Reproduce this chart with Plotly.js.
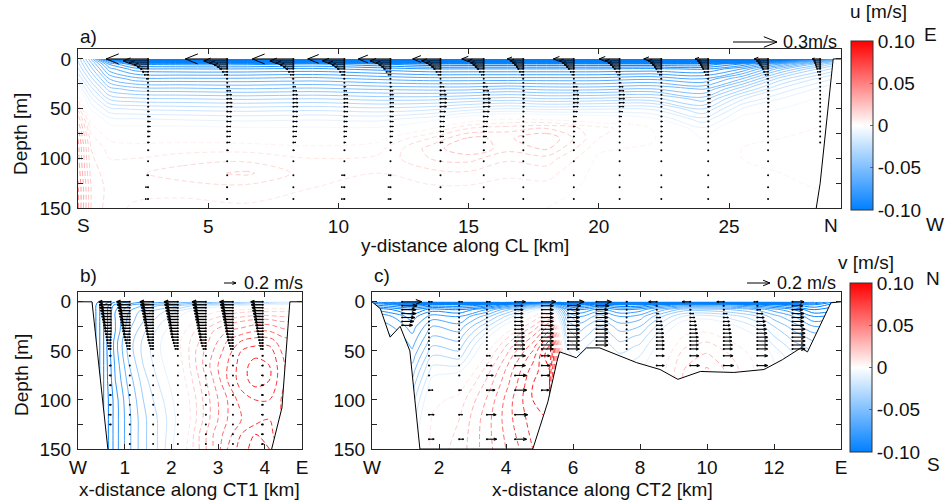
<!DOCTYPE html>
<html><head><meta charset="utf-8">
<script src="https://cdn.plot.ly/plotly-3.0.1.min.js"></script>
<style>html,body{margin:0;padding:0;background:#fff}#chart{width:949px;height:501px}</style>
</head><body><div id="chart"></div>
<script>
// ---------------- DATA ----------------
// Panel a: u along CL (columns = profiles at xA, rows = depths dA)
const xA = [0,0.5,1.2,2.2,4,6.5,9,11.5,13.5,15,16.5,18,20,22,24,25.5,27,28.3,29.3];
const dA = [0,2,5,10,20,30,40,50,60,70,80,90,100,115,130,150];
const uAcols = [
 [-0.03,-0.03,-0.028,-0.024,-0.015,-0.004,0.008,0.018,0.028,0.035,0.04,0.042,0.042,0.044,0.046,0.046],
 [-0.055,-0.052,-0.048,-0.043,-0.033,-0.023,-0.014,-0.006,0.002,0.008,0.012,0.015,0.016,0.018,0.02,0.02],
 [-0.11,-0.088,-0.076,-0.068,-0.055,-0.043,-0.031,-0.019,-0.009,-0.002,0.004,0.008,0.01,0.012,0.013,0.012],
 [-0.19,-0.115,-0.09,-0.078,-0.063,-0.048,-0.034,-0.021,-0.01,-0.003,0.003,0.007,0.01,0.014,0.012,0.009],
 [-0.22,-0.12,-0.092,-0.08,-0.064,-0.049,-0.035,-0.022,-0.011,-0.003,0.003,0.008,0.012,0.018,0.012,0.008],
 [-0.22,-0.12,-0.092,-0.08,-0.064,-0.05,-0.036,-0.023,-0.012,-0.004,0.002,0.008,0.013,0.021,0.013,0.009],
 [-0.22,-0.12,-0.09,-0.079,-0.063,-0.049,-0.035,-0.022,-0.011,-0.004,0.002,0.006,0.01,0.012,0.01,0.008],
 [-0.22,-0.125,-0.095,-0.082,-0.066,-0.051,-0.037,-0.024,-0.012,-0.004,0.003,0.008,0.011,0.01,0.008,0.006],
 [-0.22,-0.13,-0.1,-0.085,-0.068,-0.052,-0.037,-0.022,-0.008,0.004,0.015,0.022,0.02,0.013,0.009,0.006],
 [-0.22,-0.13,-0.1,-0.085,-0.068,-0.052,-0.035,-0.018,0.0,0.015,0.026,0.03,0.022,0.014,0.009,0.006],
 [-0.22,-0.13,-0.1,-0.085,-0.068,-0.05,-0.033,-0.015,0.004,0.018,0.024,0.022,0.016,0.011,0.008,0.006],
 [-0.22,-0.13,-0.1,-0.085,-0.068,-0.052,-0.035,-0.017,0.003,0.02,0.03,0.026,0.018,0.012,0.008,0.005],
 [-0.22,-0.13,-0.1,-0.085,-0.068,-0.052,-0.034,-0.016,0.0,0.012,0.01,0.006,0.004,0.003,0.003,0.003],
 [-0.22,-0.13,-0.1,-0.084,-0.066,-0.05,-0.033,-0.016,-0.004,0.005,0.006,0.004,0.002,0.0,0.0,0.0],
 [-0.22,-0.13,-0.1,-0.086,-0.07,-0.056,-0.043,-0.031,-0.019,-0.009,-0.005,-0.004,-0.004,-0.004,-0.004,-0.004],
 [-0.21,-0.12,-0.09,-0.075,-0.055,-0.037,-0.021,-0.01,-0.003,0.002,0.004,0.005,0.005,0.004,0.004,0.003],
 [-0.19,-0.1,-0.07,-0.052,-0.032,-0.019,-0.01,-0.005,0.0,0.003,0.005,0.006,0.006,0.005,0.004,0.003],
 [-0.13,-0.07,-0.05,-0.036,-0.02,-0.01,-0.005,0.0,0.003,0.005,0.006,0.007,0.007,0.006,0.005,0.004],
 [-0.08,-0.05,-0.036,-0.026,-0.013,-0.005,0.0,0.003,0.005,0.006,0.007,0.007,0.007,0.006,0.005,0.004]
];
// Panel a: current profiles (arrows)
const stA = [2.69,5.73,8.27,10.23,12.0,13.92,15.58,17.1,19.04,20.8,22.4,24.2,26.5,28.5];
const aD = [0,2,4,6,8,10,13,16,20,24,28,32,36,40,44,48,53,58,63,68,73,78,84,92,103,117,129,141];
const aU = [
 [-0.286,-0.17,-0.13,-0.095,-0.075,-0.055,-0.04,-0.027,-0.014,-0.007,-0.002,0.002,0.004,0.005,0.006,0.008,0.012,0.015,0.016,0.016,0.015,0.014,0.012,0.008,0.004,-0.012,-0.018,-0.02],
 [-0.286,-0.16,-0.12,-0.09,-0.07,-0.052,-0.035,-0.02,-0.008,0.006,0.018,0.026,0.03,0.032,0.034,0.034,0.03,0.028,0.027,0.026,0.025,0.024,0.02,0.012,0.005,-0.004,-0.008,-0.008],
 [-0.28,-0.16,-0.12,-0.09,-0.07,-0.052,-0.036,-0.022,-0.01,0.004,0.016,0.024,0.028,0.03,0.032,0.032,0.03,0.028,0.027,0.026,0.025,0.022,0.018,0.01,0.004,-0.003,-0.004,-0.004],
 [-0.25,-0.15,-0.11,-0.085,-0.066,-0.05,-0.034,-0.02,-0.008,0.002,0.012,0.018,0.022,0.024,0.025,0.025,0.024,0.022,0.02,0.02,0.018,0.016,0.012,0.006,0.0,-0.02,-0.022,-0.022],
 [-0.22,-0.14,-0.1,-0.08,-0.062,-0.048,-0.032,-0.018,-0.006,0.004,0.012,0.018,0.02,0.022,0.022,0.022,0.02,0.02,0.02,0.02,0.018,0.016,0.012,0.006,0.0,-0.015,-0.018,-0.018],
 [-0.19,-0.13,-0.1,-0.08,-0.062,-0.048,-0.032,-0.018,-0.004,0.012,0.025,0.034,0.04,0.042,0.042,0.04,0.035,0.03,0.028,0.026,0.024,0.022,0.018,0.01,0.003,0.0,0.0,0.0],
 [-0.15,-0.11,-0.09,-0.075,-0.06,-0.047,-0.032,-0.018,-0.004,0.012,0.026,0.036,0.042,0.045,0.045,0.044,0.038,0.032,0.028,0.025,0.022,0.02,0.015,0.008,0.003,0,0,0],
 [-0.11,-0.09,-0.075,-0.062,-0.05,-0.04,-0.028,-0.016,-0.006,0.002,0.006,0.01,0.012,0.012,0.012,0.01,0.008,0.006,0.004,0.004,0.004,0.003,0.002,0.002,0,0,0,0],
 [-0.14,-0.1,-0.08,-0.066,-0.052,-0.04,-0.026,-0.014,-0.002,0.012,0.024,0.03,0.034,0.034,0.032,0.03,0.025,0.02,0.016,0.012,0.01,0.008,0.006,0.004,0.002,0,0,0],
 [-0.14,-0.1,-0.08,-0.066,-0.052,-0.04,-0.026,-0.014,-0.002,0.012,0.024,0.03,0.034,0.034,0.032,0.03,0.022,0.015,0.01,0.008,0.006,0.005,0.004,0.003,0.002,0,0,0],
 [-0.12,-0.09,-0.075,-0.062,-0.05,-0.04,-0.028,-0.016,-0.006,0.0,0.004,0.006,0.006,0.006,0.006,0.006,0.006,0.008,0.01,0.01,0.01,0.008,0.006,0.005,0.003,0.002,0.002,0.002],
 [-0.09,-0.075,-0.065,-0.056,-0.048,-0.04,-0.03,-0.02,-0.01,-0.002,0.006,0.012,0.014,0.015,0.015,0.014,0.012,0.01,0.008,0.006,0.005,0.004,0.004,0.003,0.002,0,0,0],
 [-0.095,-0.08,-0.07,-0.06,-0.05,-0.042,-0.032,-0.022,-0.012,-0.004,0.003,0.008,0.01,0.01,0.01,0.008,0.006,0.004,0.003,0.002,0.002,0.002,0.002,0.002,0.002,0.002,0.002,0.002],
 [-0.055,-0.045,-0.04,-0.035,-0.03,-0.025,-0.02,-0.015,-0.01,-0.006,-0.003,-0.002,-0.001,0,0,0,0,0,0,0,0,0,0,null,null,null,null,null]
];
const aBathX = [29.3,29.0,28.5,28.35];
const aBathY = [0,0,125,150];

// Panel b: v across CT1 (rows = depths dB, columns = xB)
const xB = [0.3,0.55,0.8,1.1,1.4,1.7,2.0,2.3,2.6,2.9,3.2,3.5,3.8,4.1,4.35,4.6];
const dB = [0,4,10,20,30,40,50,65,80,100,120,135,150];
const vBrows = [
 [-0.14,-0.12,-0.1,-0.09,-0.08,-0.075,-0.07,-0.065,-0.06,-0.055,-0.05,-0.045,-0.04,-0.035,-0.03,-0.03],
 [-0.14,-0.11,-0.085,-0.07,-0.06,-0.05,-0.045,-0.035,-0.025,-0.018,-0.012,-0.008,-0.004,0,0,0],
 [-0.14,-0.11,-0.08,-0.06,-0.045,-0.035,-0.025,-0.012,0.0,0.008,0.014,0.018,0.02,0.02,0.02,0.02],
 [-0.14,-0.11,-0.08,-0.055,-0.04,-0.025,-0.012,0.002,0.015,0.025,0.035,0.04,0.045,0.045,0.04,0.04],
 [-0.14,-0.11,-0.08,-0.05,-0.032,-0.018,-0.004,0.01,0.025,0.04,0.05,0.055,0.06,0.06,0.055,0.05],
 [-0.14,-0.11,-0.075,-0.045,-0.028,-0.014,0.0,0.015,0.03,0.045,0.06,0.07,0.075,0.075,0.065,0.06],
 [-0.14,-0.11,-0.075,-0.045,-0.027,-0.013,0.0,0.015,0.035,0.05,0.065,0.08,0.085,0.085,0.07,0.06],
 [-0.14,-0.11,-0.078,-0.05,-0.03,-0.016,-0.003,0.013,0.035,0.055,0.07,0.085,0.095,0.09,0.075,0.06],
 [-0.14,-0.11,-0.08,-0.055,-0.035,-0.02,-0.007,0.01,0.03,0.05,0.07,0.085,0.095,0.09,0.075,0.06],
 [-0.14,-0.11,-0.085,-0.06,-0.04,-0.026,-0.012,0.004,0.025,0.045,0.06,0.075,0.08,0.08,0.07,0.06],
 [-0.14,-0.11,-0.085,-0.062,-0.043,-0.03,-0.015,0.002,0.025,0.045,0.06,0.07,0.075,0.08,0.07,0.06],
 [-0.14,-0.11,-0.085,-0.062,-0.043,-0.03,-0.014,0.005,0.03,0.05,0.065,0.08,0.09,0.085,0.07,0.06],
 [-0.14,-0.11,-0.085,-0.062,-0.043,-0.03,-0.012,0.008,0.03,0.05,0.07,0.085,0.095,0.09,0.075,0.06]
];
const stB = [0.7,1.11,1.61,2.14,2.74,3.32,3.96];
const bD = [0,3,6,9,12,15,18,21,24,27,30,33,36,39,42,45,48,55,65,75,85,95,105,115,125,135,145];
const bU = [
 [-0.2,-0.19,-0.18,-0.17,-0.16,-0.15,-0.14,-0.13,-0.12,-0.11,-0.1,-0.09,-0.08,-0.07,-0.06,-0.05,-0.04,-0.03,-0.03,-0.03,-0.025,-0.025,-0.03,-0.035,-0.03,null,null],
 [-0.22,-0.21,-0.2,-0.19,-0.18,-0.17,-0.16,-0.15,-0.14,-0.13,-0.12,-0.11,-0.1,-0.085,-0.07,-0.055,-0.04,-0.005,-0.005,-0.005,-0.005,-0.005,-0.005,-0.005,-0.005,-0.005,-0.005],
 [-0.22,-0.21,-0.2,-0.19,-0.18,-0.17,-0.16,-0.15,-0.14,-0.13,-0.12,-0.11,-0.1,-0.09,-0.075,-0.06,-0.045,-0.005,-0.005,-0.005,-0.005,-0.005,-0.005,-0.005,-0.005,-0.005,-0.005],
 [-0.23,-0.22,-0.21,-0.2,-0.19,-0.18,-0.17,-0.16,-0.15,-0.14,-0.13,-0.12,-0.11,-0.095,-0.08,-0.065,-0.05,-0.005,-0.005,-0.005,-0.005,-0.005,-0.005,-0.005,-0.005,-0.005,-0.005],
 [-0.23,-0.22,-0.21,-0.2,-0.19,-0.18,-0.17,-0.16,-0.15,-0.14,-0.13,-0.12,-0.11,-0.1,-0.085,-0.07,-0.05,-0.005,-0.005,-0.005,-0.005,-0.005,-0.005,-0.005,-0.005,-0.005,-0.005],
 [-0.22,-0.21,-0.2,-0.19,-0.18,-0.17,-0.16,-0.15,-0.14,-0.13,-0.12,-0.11,-0.1,-0.09,-0.075,-0.06,-0.045,-0.005,-0.01,-0.01,-0.01,-0.01,-0.01,-0.01,-0.01,-0.01,-0.01],
 [-0.2,-0.19,-0.18,-0.17,-0.16,-0.15,-0.14,-0.13,-0.12,-0.11,-0.1,-0.09,-0.08,-0.07,-0.06,-0.05,-0.04,-0.02,-0.025,-0.03,-0.03,-0.03,-0.03,-0.03,-0.03,-0.03,-0.03]
];
const bLeftX = [0,0.3,0.64];
const bLeftY = [0,0,150];
const bRightX = [4.8,4.54,4.37,4.15];
const bRightY = [0,0,108,150];

// Panel c: v across CT2 (columns = profiles at xC, rows = depths dC)
const xC = [0,0.6,1.2,1.8,2.6,3.4,4.2,4.8,5.3,5.8,6.2,6.8,7.4,8.0,8.6,9.3,10,10.7,11.4,12,12.6,13.2,14];
const dC = [0,3,8,15,25,35,45,55,70,85,100,120,150];
const vCcols = [
 [-0.14,-0.12,-0.09,-0.07,-0.06,-0.05,-0.045,-0.04,-0.035,-0.03,-0.025,-0.02,-0.02],
 [-0.17,-0.13,-0.1,-0.08,-0.07,-0.06,-0.055,-0.05,-0.045,-0.04,-0.035,-0.03,-0.03],
 [-0.2,-0.14,-0.11,-0.095,-0.085,-0.078,-0.072,-0.065,-0.055,-0.045,-0.035,-0.025,-0.015],
 [-0.2,-0.13,-0.095,-0.075,-0.06,-0.05,-0.04,-0.03,-0.015,-0.003,0.006,0.012,0.014],
 [-0.2,-0.13,-0.1,-0.08,-0.066,-0.055,-0.045,-0.035,-0.012,0.004,0.014,0.02,0.024],
 [-0.2,-0.12,-0.08,-0.055,-0.033,-0.015,0.0,0.01,0.024,0.033,0.04,0.045,0.045],
 [-0.18,-0.09,-0.045,-0.02,0.005,0.025,0.04,0.05,0.06,0.065,0.07,0.07,0.065],
 [-0.16,-0.07,-0.015,0.01,0.03,0.05,0.065,0.075,0.085,0.09,0.09,0.085,0.08],
 [-0.15,-0.06,0.0,0.03,0.06,0.08,0.1,0.11,0.1,0.1,0.1,0.09,0.085],
 [-0.17,-0.11,-0.075,-0.055,-0.04,-0.03,-0.02,-0.015,-0.015,-0.015,-0.015,-0.015,-0.015],
 [-0.18,-0.12,-0.09,-0.07,-0.055,-0.045,-0.035,-0.028,-0.025,-0.025,-0.025,-0.025,-0.025],
 [-0.18,-0.11,-0.075,-0.055,-0.04,-0.03,-0.022,-0.016,-0.014,-0.014,-0.014,-0.014,-0.014],
 [-0.18,-0.12,-0.09,-0.07,-0.055,-0.045,-0.036,-0.028,-0.02,-0.02,-0.02,-0.02,-0.02],
 [-0.18,-0.12,-0.085,-0.065,-0.05,-0.038,-0.028,-0.02,-0.012,-0.012,-0.012,-0.012,-0.012],
 [-0.18,-0.1,-0.065,-0.042,-0.025,-0.013,-0.005,0.0,0.004,0.004,0.004,0.004,0.004],
 [-0.18,-0.09,-0.045,-0.018,0.0,0.01,0.018,0.025,0.03,0.03,0.03,0.03,0.03],
 [-0.18,-0.09,-0.045,-0.015,0.004,0.014,0.024,0.032,0.042,0.042,0.042,0.042,0.042],
 [-0.18,-0.09,-0.05,-0.024,-0.006,0.006,0.014,0.02,0.026,0.026,0.026,0.026,0.026],
 [-0.18,-0.1,-0.06,-0.036,-0.02,-0.008,0.002,0.008,0.01,0.01,0.01,0.01,0.01],
 [-0.18,-0.11,-0.075,-0.055,-0.04,-0.03,-0.02,-0.012,-0.008,-0.008,-0.008,-0.008,-0.008],
 [-0.18,-0.12,-0.09,-0.07,-0.055,-0.045,-0.036,-0.028,-0.022,-0.022,-0.022,-0.022,-0.022],
 [-0.16,-0.13,-0.11,-0.09,-0.07,-0.055,-0.045,-0.035,-0.03,-0.03,-0.03,-0.03,-0.03],
 [-0.12,-0.11,-0.1,-0.08,-0.065,-0.05,-0.04,-0.03,-0.03,-0.03,-0.03,-0.03,-0.03]
];
const stC = [0.9,1.7,2.6,3.43,4.27,5.07,5.85,6.7,7.6,8.5,9.5,10.5,11.5,12.55];
const cD = [0,4,8,12,16,20,24,28,32,36,40,44,48,55,65,75,90,115,140];
const N_ = null;
const cU = [
 [0.17,0.13,0.12,0.12,0.11,0.1,0.09,N_,N_,N_,N_,N_,N_,N_,N_,N_,N_,N_,N_],
 [0.03,0.005,0.005,0.005,0.005,0.005,0.005,0.005,0.005,0.005,0.005,0.005,0.005,0.005,0.01,0.01,0.035,0.045,0.045],
 [0.03,0.005,0.005,0.005,0.005,0.005,0.005,0.005,0.005,0.005,0.005,0.005,0.005,0.005,0.005,0.01,0.02,0.03,0.04],
 [0.03,0.005,0.005,0.005,0.005,0.005,0.005,0.005,0.005,0.005,0.005,0.005,0.005,0.03,0.045,0.055,0.07,0.08,0.085],
 [0.09,0.07,0.07,0.07,0.07,0.07,0.075,0.075,0.08,0.08,0.08,0.085,0.085,0.09,0.09,0.1,0.1,0.11,0.1],
 [0.12,0.1,0.1,0.1,0.1,0.1,0.1,0.1,0.1,0.1,0.1,0.1,0.1,0.07,0.07,0.07,0.06,N_,N_],
 [0.14,0.11,0.1,0.1,0.1,0.1,0.1,0.1,0.1,0.1,0.1,0.1,0.1,N_,N_,N_,N_,N_,N_],
 [0.13,0.11,0.1,0.1,0.1,0.1,0.1,0.1,0.1,0.1,0.1,0.1,N_,N_,N_,N_,N_,N_,N_],
 [0.01,0.005,0.005,0.005,0.005,0.005,0.005,0.005,0.005,0.005,0.005,0.005,0.005,N_,N_,N_,N_,N_,N_],
 [-0.07,-0.01,0.005,0.02,0.035,0.045,0.05,0.055,0.06,0.06,0.065,0.065,0.065,0.065,0.065,N_,N_,N_,N_],
 [-0.07,-0.01,0.01,0.03,0.04,0.05,0.055,0.06,0.065,0.07,0.07,0.07,0.07,0.075,0.08,N_,N_,N_,N_],
 [-0.06,-0.01,0.01,0.03,0.04,0.05,0.055,0.06,0.065,0.07,0.07,0.075,0.075,0.08,0.085,N_,N_,N_,N_],
 [-0.03,0.01,0.03,0.05,0.06,0.07,0.075,0.08,0.085,0.09,0.09,0.09,0.09,0.09,0.09,N_,N_,N_,N_],
 [0.1,0.09,0.09,0.1,0.1,0.1,0.1,0.11,0.11,0.11,0.11,0.11,0.11,N_,N_,N_,N_,N_,N_]
];
const cBathX = [0,0.25,0.54,0.84,1.13,1.43,4.8,5.25,5.52,5.6,6.1,6.4,6.8,7.9,8.6,9.13,9.8,10.8,11.7,12.25,12.8,13.0,13.7,14];
const cBathY = [0,7,36,25,50,150,150,102,61,51,57,47,47,62,69,79,71,72,69,59,47,51,1,0];

const cbTicks = [-0.1,-0.05,0,0.05,0.1];
const cbTickText = ['-0.10','-0.05','0','0.05','0.10'];

// ---------------- GEOMETRY / STYLE ----------------
const W = 949, H = 501;
const px = x => x / W, py = y => 1 - y / H;
const FONT = 'Liberation Sans, Arial, Helvetica, sans-serif';
const BLUE = [0,128,255], RED = [255,0,0], VMAX = 0.1;
const CS = [[0,'rgb(0,128,255)'],[0.5,'rgb(255,255,255)'],[1,'rgb(255,0,0)']];
function colorAt(v) {
  const t = Math.max(-1, Math.min(1, v / VMAX));
  const c = t < 0 ? BLUE : RED, a = Math.abs(t);
  return 'rgb(' + c.map(ch => Math.round(255 + (ch - 255) * a)).join(',') + ')';
}
// colorscale spanning [first level, last level] that reproduces the global -0.1..0.1 mapping
function lineScale(first, last) {
  const out = [];
  for (let i = 0; i <= 40; i++) { const f = i / 40; out.push([f, colorAt(first + f * (last - first))]); }
  return out;
}
const boxA = [78,841,49,208], boxB = [78,302,292,449], boxC = [372,841,292,449];
const rangeX = {a:[0,29.3], b:[0,4.8], c:[0,14]};
const rangeY = [150,-10];
const pxPerKm = (box, r) => (box[1]-box[0]) / (r[1]-r[0]);
const pxPerM = box => (box[3]-box[2]) / (rangeY[0]-rangeY[1]);
const arrowPxA = 44/0.3, arrowPxB = 12/0.2, arrowPxC = 23/0.2;

function field(x, y, z, size, xa, ya) {
  const base = {type:'contour', x:x, y:y, z:z, xaxis:xa, yaxis:ya, showscale:false, autocontour:false, hoverinfo:'skip'};
  const lo = -0.2, hi = 0.2;
  return [
    Object.assign({}, base, {colorscale:lineScale(lo, -size), contours:{coloring:'lines', start:lo, end:-size*0.5, size:size}, line:{width:1, smoothing:1}}),
    Object.assign({}, base, {colorscale:lineScale(size, hi), contours:{coloring:'lines', start:size, end:hi + size*0.5, size:size}, line:{width:1, smoothing:1, dash:'5px,3px'}})
  ];
}
const colsToRows = (cols, depths) => depths.map((_, j) => cols.map(c => c[j]));

function quiver(xs, depths, U, pxPerMS, pxK, pxM, xa, ya, lw) {
  const lx = [], ly = [], dx = [], dy = [];
  const kmPerMS = pxPerMS / pxK;
  xs.forEach((x0, s) => depths.forEach((d, k) => {
    const u = U[s][k];
    if (u === null || u === undefined) return;
    dx.push(x0); dy.push(d);
    const L = u * kmPerMS, x1 = x0 + L, Lpx = Math.abs(L) * pxK;
    if (Lpx < 0.8) return;
    lx.push(x0, x1, null); ly.push(d, d, null);
    if (Lpx >= 2) {
      const hx = 0.3 * L, wy = 0.12 * Lpx / pxM;
      lx.push(x1 - hx, x1, x1 - hx, null); ly.push(d - wy, d, d + wy, null);
    }
  }));
  return [
    {type:'scatter', mode:'lines', x:lx, y:ly, xaxis:xa, yaxis:ya, line:{color:'#000', width:lw}, hoverinfo:'skip'},
    {type:'scatter', mode:'markers', x:dx, y:dy, xaxis:xa, yaxis:ya, marker:{color:'#000', size:2}, hoverinfo:'skip'}
  ];
}
function whiteFill(x, y, xa, ya) {
  return {type:'scatter', mode:'lines', x:x, y:y, xaxis:xa, yaxis:ya, fill:'toself', fillcolor:'#fff',
    line:{width:0, color:'rgba(0,0,0,0)'}, hoverinfo:'skip'};
}
function bathLine(x, y, xa, ya) {
  return {type:'scatter', mode:'lines', x:x, y:y, xaxis:xa, yaxis:ya, line:{color:'#000', width:1}, hoverinfo:'skip'};
}
function cbar(xa, ya, xpx, topPx, botPx) {
  return {type:'scatter', mode:'markers', x:[null,null], y:[null,null], xaxis:xa, yaxis:ya, hoverinfo:'skip',
    marker:{color:[-0.1,0.1], cmin:-0.1, cmax:0.1, colorscale:CS, showscale:true,
      colorbar:{x:px(xpx), xanchor:'left', y:py((topPx+botPx)/2), yanchor:'middle', len:(botPx-topPx)/H, lenmode:'fraction',
        thickness:22, thicknessmode:'pixels', outlinewidth:1, outlinecolor:'#333', xpad:0, ypad:0,
        tickvals:cbTicks, ticktext:cbTickText, ticks:'inside', ticklen:3, tickcolor:'#666', ticklabelstandoff:6,
        tickfont:{size:19, family:FONT, color:'#111'}}}};
}

// ---------------- TRACES ----------------
const traces = [];
traces.push(...field(xA, dA, colsToRows(uAcols, dA), 0.005, 'x', 'y'));
traces.push(...field(xB, dB, vBrows, 0.01, 'x2', 'y2'));
traces.push(...field(xC, dC, colsToRows(vCcols, dC), 0.01, 'x3', 'y3'));

traces.push(whiteFill(aBathX.concat([rangeX.a[1]]), aBathY.concat([rangeY[0]]), 'x', 'y'));
traces.push(whiteFill(bLeftX.concat([rangeX.b[0]]), bLeftY.concat([rangeY[0]]), 'x2', 'y2'));
traces.push(whiteFill(bRightX.concat([rangeX.b[1]]), bRightY.concat([rangeY[0]]), 'x2', 'y2'));
traces.push(whiteFill(cBathX.concat([rangeX.c[1], rangeX.c[0]]), cBathY.concat([rangeY[0], rangeY[0]]), 'x3', 'y3'));

traces.push(bathLine(aBathX, aBathY, 'x', 'y'));
traces.push(bathLine(bLeftX, bLeftY, 'x2', 'y2'));
traces.push(bathLine(bRightX, bRightY, 'x2', 'y2'));
traces.push(bathLine(cBathX, cBathY, 'x3', 'y3'));

traces.push(...quiver(stA, aD, aU, arrowPxA, pxPerKm(boxA, rangeX.a), pxPerM(boxA), 'x', 'y', 1));
traces.push(...quiver(stB, bD, bU, arrowPxB, pxPerKm(boxB, rangeX.b), pxPerM(boxB), 'x2', 'y2', 1.4));
traces.push(...quiver(stC, cD, cU, arrowPxC, pxPerKm(boxC, rangeX.c), pxPerM(boxC), 'x3', 'y3', 1.1));

traces.push(cbar('x', 'y', 851, 41, 210));
traces.push(cbar('x3', 'y3', 850, 283, 452));

// ---------------- LAYOUT ----------------
const axBase = {showline:true, linecolor:'#262626', linewidth:1, mirror:'ticks', ticks:'inside', ticklen:5,
  tickcolor:'#262626', showgrid:false, zeroline:false, fixedrange:true,
  tickfont:{size:19, family:FONT, color:'#111'}};
const yTicks = {tickvals:[0,25,50,75,100,125,150], ticktext:['0','','50','','100','','150'], range:rangeY, ticklabelstandoff:2};
const layout = {
  width:W, height:H, margin:{l:0,r:0,t:0,b:0}, paper_bgcolor:'#fff', plot_bgcolor:'#fff', showlegend:false,
  font:{family:FONT, size:19, color:'#111'},
  xaxis: Object.assign({}, axBase, {domain:[px(boxA[0]),px(boxA[1])], range:rangeX.a, tickvals:[5,10,15,20,25], anchor:'y', ticklabelstandoff:1}),
  yaxis: Object.assign({}, axBase, yTicks, {domain:[py(boxA[3]),py(boxA[2])], anchor:'x'}),
  xaxis2: Object.assign({}, axBase, {domain:[px(boxB[0]),px(boxB[1])], range:rangeX.b, tickvals:[0,1,2,3,4,4.8], ticktext:['W','1','2','3','4','E'], anchor:'y2', ticklabelstandoff:1}),
  yaxis2: Object.assign({}, axBase, yTicks, {domain:[py(boxB[3]),py(boxB[2])], anchor:'x2'}),
  xaxis3: Object.assign({}, axBase, {domain:[px(boxC[0]),px(boxC[1])], range:rangeX.c, tickvals:[0,2,4,6,8,10,12,14], ticktext:['W','2','4','6','8','10','12','E'], anchor:'y3', ticklabelstandoff:1}),
  yaxis3: Object.assign({}, axBase, yTicks, {domain:[py(boxC[3]),py(boxC[2])], anchor:'x3'}),
  annotations: [],
  shapes: []
};
function ann(text, x, y, opts) {
  layout.annotations.push(Object.assign({text:text, x:px(x), y:py(y), xref:'paper', yref:'paper', showarrow:false,
    xanchor:'center', yanchor:'middle', font:{size:19, family:FONT, color:'#111'}}, opts || {}));
}
ann('a)', 78, 37, {xanchor:'left'});
ann('b)', 78, 275, {xanchor:'left'});
ann('c)', 372, 275, {xanchor:'left'});
ann('Depth [m]', 21, 134, {textangle:-90});
ann('Depth [m]', 21, 375, {textangle:-90});
ann('y-distance along CL [km]', 465, 245);
ann('x-distance along CT1 [km]', 189, 489);
ann('x-distance along CT2 [km]', 602, 489);
ann('S', 83, 225);
ann('N', 831, 225);
ann('u [m/s]', 878, 12);
ann('v [m/s]', 866, 262);
ann('E', 930, 35);
ann('W', 935, 224);
ann('N', 933, 278);
ann('S', 933, 464);
ann('0.3m/s', 781, 42, {xanchor:'left', font:{size:18, family:FONT, color:'#111'}});
ann('0.2 m/s', 242, 283, {xanchor:'left', font:{size:18, family:FONT, color:'#111'}});
ann('0.2 m/s', 775, 283, {xanchor:'left', font:{size:18, family:FONT, color:'#111'}});

function legendArrow(x0, y0, Lpx) {
  const x1 = x0 + Lpx, h = 0.3 * Lpx, w = 0.12 * Lpx;
  const seg = (a, b, c, d) => layout.shapes.push({type:'line', xref:'paper', yref:'paper',
    x0:px(a), y0:py(b), x1:px(c), y1:py(d), line:{color:'#000', width:1}});
  seg(x0, y0, x1, y0); seg(x1 - h, y0 - w, x1, y0); seg(x1 - h, y0 + w, x1, y0);
}
legendArrow(733, 42, 0.3 * arrowPxA);
legendArrow(224, 283, 0.2 * arrowPxB);
legendArrow(747, 283, 0.2 * arrowPxC);

Plotly.newPlot('chart', traces, layout, {staticPlot:true, displayModeBar:false});
</script></body></html>
